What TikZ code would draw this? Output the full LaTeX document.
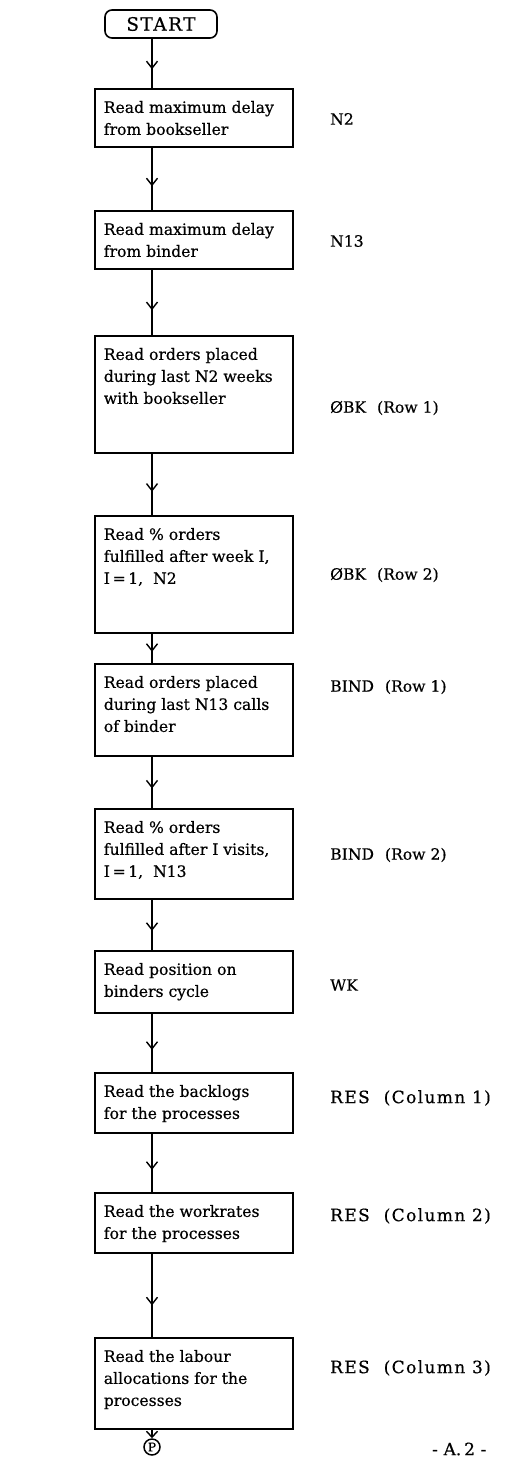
\documentclass[tikz,border=0pt]{standalone}
\usepackage{fontspec}
\setmainfont{DejaVu Serif}[FakeBold=0.5]
\usetikzlibrary{decorations.markings,arrows.meta}
\newcommand\bxtxt[2]{\parbox[c][#1][t]{180pt}{\rule{0pt}{24pt}#2}}
\newcommand\gap{\hspace{11pt}}
\newcommand\rgap{\hspace{14pt}}
\begin{document}
\begin{tikzpicture}[x=1pt,y=-1pt,
  every node/.style={font=\fontsize{15.6}{22}\selectfont},
  box/.style={draw,line width=1.7pt,inner xsep=9pt,inner ysep=0pt,anchor=north west},
  lab/.style={anchor=west,inner sep=0pt},
  reslab/.style={lab,font=\fontsize{17}{22}\selectfont\addfontfeature{LetterSpace=8}},
  flow/.style={line width=1.6pt,postaction={decorate},
    decoration={markings,mark=at position 0.62 with {\arrow{Straight Barb[length=7pt,width=11pt,line width=1.4pt]}}}},
  endflow/.style={line width=1.6pt,-{Straight Barb[length=6pt,width=11pt,line width=1.4pt]}}]
\useasboundingbox (0,0) rectangle (519,1463);
\coordinate (col) at (152,0);
\node[draw,line width=1.6pt,rounded corners=7pt,minimum width=112pt,minimum height=28pt,inner sep=0pt,font=\fontsize{18.5}{20}\selectfont\addfontfeature{LetterSpace=8}] (start) at (161,24) {START};
\node[box] (b1) at (94,88) {\bxtxt{58pt}{Read maximum delay\\from bookseller}};
\node[box] (b2) at (94,210) {\bxtxt{58pt}{Read maximum delay\\from binder}};
\node[box] (b3) at (94,335) {\bxtxt{117pt}{Read orders placed\\during last N2 weeks\\with bookseller}};
\node[box] (b4) at (94,515) {\bxtxt{117pt}{Read \% orders\\fulfilled after week I,\\I\,=\,1, \ N2}};
\node[box] (b5) at (94,663) {\bxtxt{92pt}{Read orders placed\\during last N13 calls\\of binder}};
\node[box] (b6) at (94,808) {\bxtxt{90pt}{Read \% orders\\fulfilled after I visits,\\I\,=\,1, \ N13}};
\node[box] (b7) at (94,950) {\bxtxt{62pt}{Read position on\\binders cycle}};
\node[box] (b8) at (94,1072) {\bxtxt{60pt}{Read the backlogs\\for the processes}};
\node[box] (b9) at (94,1192) {\bxtxt{60pt}{Read the workrates\\for the processes}};
\node[box] (b10) at (94,1337) {\bxtxt{91pt}{Read the labour\\allocations for the\\processes}};
\node[draw,circle,line width=1.5pt,inner sep=0pt,minimum size=16pt,font=\fontsize{12}{12}\selectfont] (p) at (152,1447) {P};
\node[lab] (l1) at (330,119) {N2};
\node[lab] (l2) at (330,241) {N13};
\node[lab] (l3) at (330,408) {ØBK\gap(Row 1)};
\node[lab] (l4) at (330,575) {ØBK\gap(Row 2)};
\node[lab] (l5) at (330,687) {BIND\gap(Row 1)};
\node[lab] (l6) at (330,855) {BIND\gap(Row 2)};
\node[lab] (l7) at (330,985) {WK};
\node[reslab] (l8) at (330,1098) {RES\rgap(Column 1)};
\node[reslab] (l9) at (330,1216) {RES\rgap(Column 2)};
\node[reslab] (l10) at (330,1368) {RES\rgap(Column 3)};
\node[lab,font=\fontsize{17}{20}\selectfont] (pg) at (432,1449) {-\,\,A.\,2\,\,-};
\draw[flow] (start.south -| col) -- (b1.north -| col);
\draw[flow] (b1.south -| col) -- (b2.north -| col);
\draw[flow] (b2.south -| col) -- (b3.north -| col);
\draw[flow] (b3.south -| col) -- (b4.north -| col);
\draw[flow] (b4.south -| col) -- (b5.north -| col);
\draw[flow] (b5.south -| col) -- (b6.north -| col);
\draw[flow] (b6.south -| col) -- (b7.north -| col);
\draw[flow] (b7.south -| col) -- (b8.north -| col);
\draw[flow] (b8.south -| col) -- (b9.north -| col);
\draw[flow] (b9.south -| col) -- (b10.north -| col);
\draw[endflow] (b10.south -| col) -- (p.north);
\end{tikzpicture}
\end{document}
